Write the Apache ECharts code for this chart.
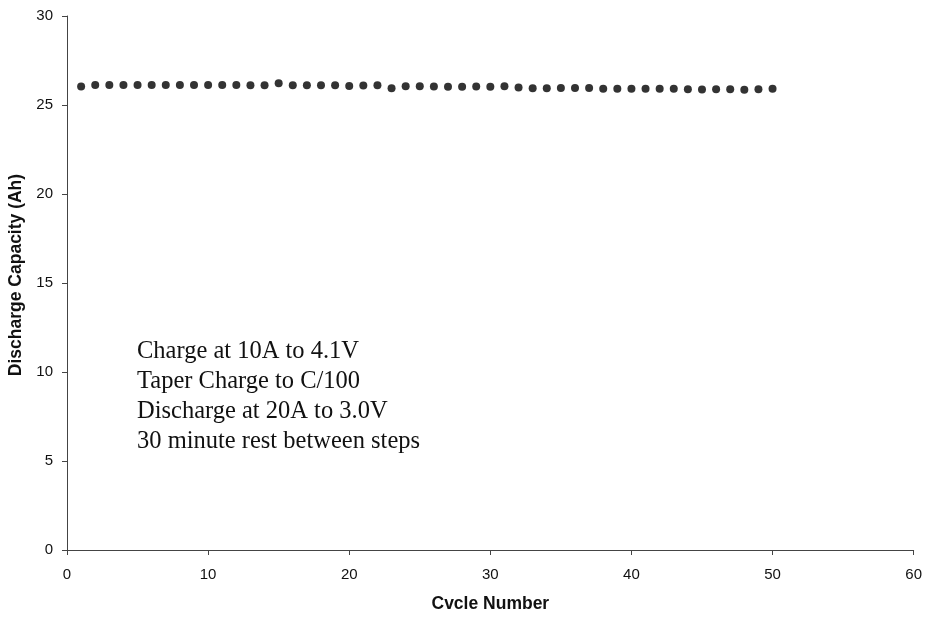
<!DOCTYPE html>
<html>
<head>
<meta charset="utf-8">
<script src="https://cdn.jsdelivr.net/npm/echarts@6/dist/echarts.min.js"></script>
<style>html,body{margin:0;padding:0;background:#fff}#c{width:925px;height:618px}</style>
</head>
<body>
<div id="c"></div>
<script>
const cycles = [1,2,3,4,5,6,7,8,9,10,11,12,13,14,15,16,17,18,19,20,21,22,23,24,25,26,27,28,29,30,31,32,33,34,35,36,37,38,39,40,41,42,43,44,45,46,47,48,49,50];
const capacity = [26.04,26.13,26.13,26.13,26.13,26.13,26.13,26.13,26.13,26.13,26.13,26.13,26.11,26.11,26.22,26.11,26.11,26.11,26.11,26.07,26.09,26.11,25.94,26.06,26.06,26.04,26.02,26.02,26.04,26.02,26.06,25.98,25.94,25.94,25.96,25.96,25.96,25.91,25.91,25.91,25.91,25.91,25.91,25.89,25.87,25.89,25.89,25.85,25.89,25.91];
const xTicks = [0,10,20,30,40,50,60];
const yTicks = [0,5,10,15,20,25,30];
const noteLines = ["Charge at 10A to 4.1V","Taper Charge to C/100","Discharge at 20A to 3.0V","30 minute rest between steps"];

const chart = echarts.init(document.getElementById('c'));
const axisCommon = {
  axisLine: {show: true, lineStyle: {color: '#444', width: 1}},
  axisTick: {show: true, inside: false, length: 5, lineStyle: {color: '#444'}},
  splitLine: {show: false},
  axisLabel: {color: '#111', fontFamily: 'Liberation Sans, Arial', fontSize: 15},
  nameTextStyle: {color: '#111', fontFamily: 'Liberation Sans, Arial', fontSize: 17.5, fontWeight: 'bold'}
};
chart.setOption({
  animation: false,
  backgroundColor: '#fff',
  grid: {left: 67, right: 10, top: 16, bottom: 63, containLabel: false},
  xAxis: Object.assign({}, axisCommon, {
    type: 'value', min: xTicks[0], max: xTicks[xTicks.length-1], interval: 10,
    name: 'Cvcle Number', nameLocation: 'middle', nameGap: 45,
    axisLabel: Object.assign({}, axisCommon.axisLabel, {margin: 17})
  }),
  yAxis: Object.assign({}, axisCommon, {
    type: 'value', min: yTicks[0], max: yTicks[yTicks.length-1], interval: 5,
    name: '',
    axisLabel: Object.assign({}, axisCommon.axisLabel, {margin: 14})
  }),
  graphic: [{
    type: 'text', x: 16, y: 275, rotation: Math.PI / 2,
    style: {text: 'Discharge Capacity (Ah)', fill: '#111', align: 'center', verticalAlign: 'middle',
            font: 'bold 17.5px "Liberation Sans", Arial, sans-serif'}
  }, {
    type: 'group', left: 137, top: 339,
    children: noteLines.map((t, i) => ({
      type: 'text', left: 0, top: i * 30,
      style: {text: t, fill: '#111', font: '24.5px "Liberation Serif", "Times New Roman", serif'}
    }))
  }],
  series: [{
    type: 'scatter',
    data: cycles.map((c, i) => [c, capacity[i]]),
    symbol: 'circle', symbolSize: 8,
    itemStyle: {color: '#000'}
  }]
});
</script>
</body>
</html>
